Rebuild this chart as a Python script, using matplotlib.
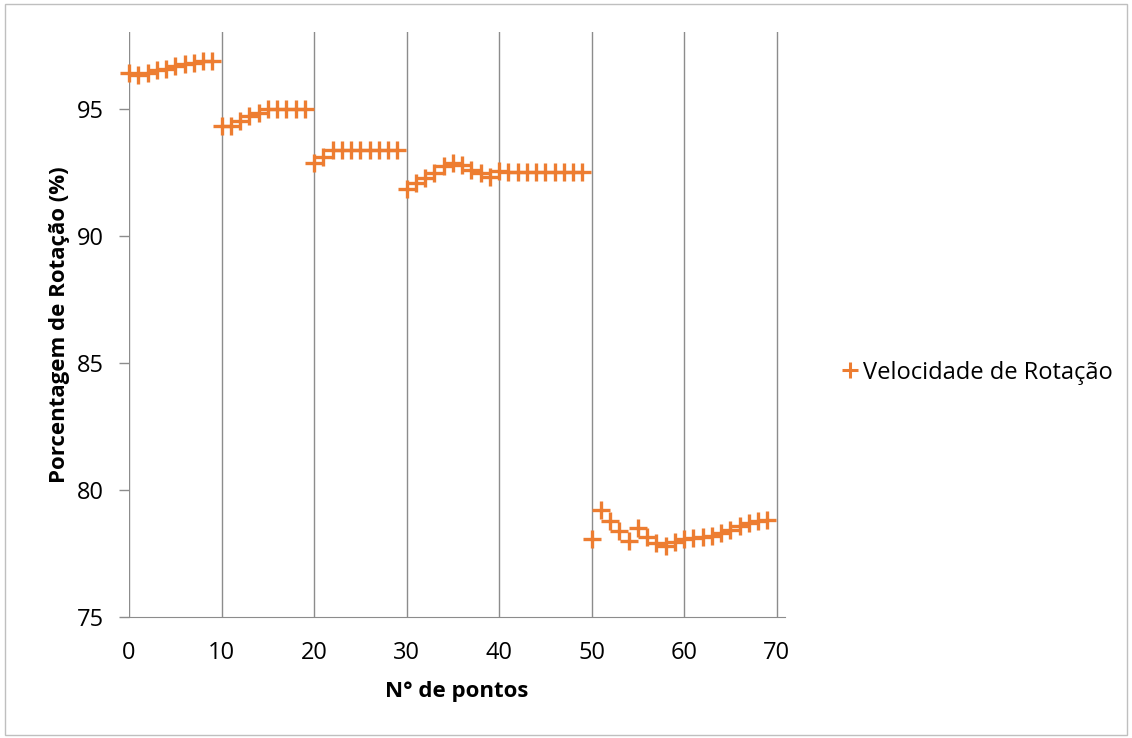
import matplotlib
matplotlib.use("Agg")
import matplotlib.pyplot as plt
from matplotlib.patches import Rectangle
from matplotlib.lines import Line2D

pontos = list(range(70))
velocidade = [
    96.41, 96.34, 96.41, 96.51, 96.57, 96.67, 96.76, 96.80, 96.86, 96.88,
    94.30, 94.30, 94.50, 94.70, 94.83, 94.99, 95.00, 95.00, 95.00, 95.00,
    92.86, 93.10, 93.36, 93.39, 93.39, 93.39, 93.39, 93.39, 93.39, 93.39,
    91.85, 92.07, 92.27, 92.47, 92.73, 92.86, 92.80, 92.60, 92.47, 92.33,
    92.53, 92.49, 92.49, 92.49, 92.49, 92.49, 92.49, 92.49, 92.49, 92.49,
    78.07, 79.21, 78.79, 78.40, 78.00, 78.49, 78.14, 77.90, 77.80, 77.96,
    78.07, 78.10, 78.14, 78.19, 78.30, 78.43, 78.56, 78.71, 78.79, 78.82,
]
serie_nome = "Velocidade de Rotação"
x_label = "N° de pontos"
y_label = "Porcentagem de Rotação (%)"
x_ticks = [0, 10, 20, 30, 40, 50, 60, 70]
y_ticks = [75, 80, 85, 90, 95]

plt.rcParams['font.family'] = ['Open Sans', 'DejaVu Sans']

fig = plt.figure(figsize=(11.32, 7.38), dpi=100)
fig.patches.append(Rectangle((0.004, 0.004), 0.992, 0.99, transform=fig.transFigure,
                             fill=False, edgecolor='#BFBFBF', linewidth=1))
ax = fig.add_axes([0.114, 0.164, 0.5795, 0.792])

orange = '#ED7D31'
ax.plot(pontos, velocidade, linestyle='none', marker='+', markersize=13,
        markeredgewidth=2.4, color=orange, clip_on=False, zorder=3)

ax.set_xlim(0, 70.9)
ax.set_ylim(75, 98)
ax.set_xticks(x_ticks)
ax.set_yticks(y_ticks)
ax.xaxis.grid(True, color='#8C8C8C', linewidth=1)
ax.yaxis.grid(False)
for s in ['top', 'right', 'left']:
    ax.spines[s].set_visible(False)
ax.spines['bottom'].set_color('#8C8C8C')
ax.spines['bottom'].set_bounds(0, 70.9)
ax.tick_params(axis='x', length=0, labelsize=17, pad=17, colors='black')
ax.tick_params(axis='y', length=7, width=1, color='#8C8C8C', labelsize=17, pad=11)
ax.set_xlabel(x_label, fontsize=16, fontweight='bold', labelpad=12)
ax.set_ylabel(y_label, fontsize=16, fontweight='bold', labelpad=5)

handle = Line2D([], [], linestyle='none', marker='+', markersize=11,
                markeredgewidth=2.2, color=orange)
fig.legend([handle], [serie_nome], loc='center left',
           bbox_to_anchor=(0.7226, 0.495), frameon=False, fontsize=17,
           handletextpad=0.1, handlelength=0.9)

fig.savefig('out.png', dpi=100)
